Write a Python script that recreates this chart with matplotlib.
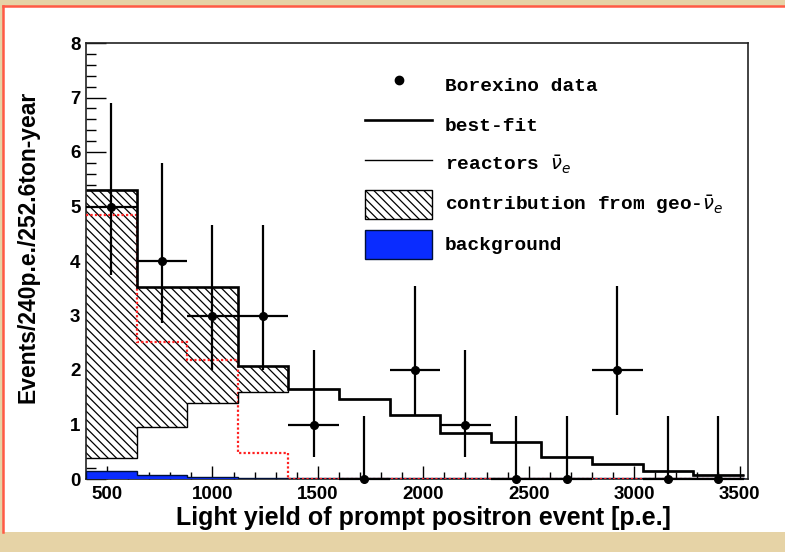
import numpy as np
import matplotlib
matplotlib.use("Agg")
import matplotlib.pyplot as plt
from matplotlib.lines import Line2D
from matplotlib.patches import Patch, Rectangle
from matplotlib.ticker import MultipleLocator

# Light-yield binning (240 p.e. per bin)
bin_edges = [400, 640, 880, 1120, 1360, 1600, 1840, 2080, 2320, 2560, 2800, 3040, 3280, 3520]
bin_centers = [520, 760, 1000, 1240, 1480, 1720, 1960, 2200, 2440, 2680, 2920, 3160, 3400]

# Observed events with asymmetric (Poisson) intervals
data_counts = [5, 4, 3, 3, 1, 0, 2, 1, 0, 0, 2, 0, 0]
data_lower = [3.74, 2.86, 2.00, 2.00, 0.40, 0.00, 1.17, 0.40, 0.00, 0.00, 1.17, 0.00, 0.00]
data_upper = [6.90, 5.80, 4.66, 4.66, 2.36, 1.16, 3.54, 2.36, 1.16, 1.16, 3.54, 1.16, 1.16]

# Fit components
best_fit = [5.30, 3.52, 3.52, 2.07, 1.65, 1.46, 1.18, 0.85, 0.68, 0.41, 0.28, 0.15, 0.07]
reactors = [0.38, 0.95, 1.39, 1.60, 1.65, 1.46, 1.18, 0.85, 0.68, 0.41, 0.28, 0.15, 0.07]
geo_only = [4.85, 2.52, 2.18, 0.48, 0.0, 0.0, 0.0, 0.0, 0.0, 0.0, 0.0, 0.0, 0.0]
background = [0.15, 0.08, 0.03, 0.02, 0.02, 0.01, 0.01, 0.01, 0.01, 0.01, 0.01, 0.01, 0.01]

legend_labels = ["Borexino data", "best-fit", r"reactors $\bar{\nu}_e$",
                 r"contribution from geo-$\bar{\nu}_e$", "background"]

edges = np.array(bin_edges, dtype=float)
centers = np.array(bin_centers, dtype=float)
counts = np.array(data_counts, dtype=float)
yerr = np.vstack([counts - np.array(data_lower), np.array(data_upper) - counts])
xerr = np.full_like(centers, 120.0)

plt.rcParams["hatch.linewidth"] = 0.9
plt.rcParams["mathtext.fontset"] = "dejavusans"

W, H = 785, 552
fig = plt.figure(figsize=(W / 100, H / 100), dpi=100)
fig.patch.set_facecolor("#e6d3a6")

# White panel with red border on left and top
panel_l, panel_b, panel_t = 3 / W, 1 - 532 / H, 1 - 6 / H
fig.add_artist(Rectangle((panel_l, panel_b), 1 - panel_l, panel_t - panel_b,
                         transform=fig.transFigure, facecolor="white",
                         edgecolor="none", zorder=0))
fig.add_artist(Line2D([panel_l, panel_l], [panel_b, panel_t], transform=fig.transFigure,
                      color="#ff5a45", lw=1.8, zorder=1))
fig.add_artist(Line2D([panel_l, 1], [panel_t, panel_t], transform=fig.transFigure,
                      color="#ff5a45", lw=1.8, zorder=1))

ax_l, ax_r, ax_t, ax_b = 86, 748, 43, 479
ax = fig.add_axes([ax_l / W, 1 - ax_b / H, (ax_r - ax_l) / W, (ax_b - ax_t) / H])
ax.set_facecolor("white")

# Geo contribution stacked on top of reactors (hatched)
ax.stairs(best_fit, edges, baseline=reactors, fill=True, facecolor="white",
          edgecolor="black", hatch="\\\\\\\\", linewidth=0, zorder=2)
# Background
ax.stairs(background, edges, fill=True, facecolor="#0a2cff", edgecolor="#00103a",
          linewidth=1.0, zorder=3)
# Geo-only spectrum
ax.stairs(geo_only, edges, baseline=None, edgecolor="#ff2020", linestyle=(0, (1, 1)),
          linewidth=1.6, zorder=3)
# Reactor and best-fit curves
ax.stairs(reactors, edges, baseline=None, edgecolor="black", linewidth=1.0, zorder=4)
ax.stairs(best_fit, edges, baseline=None, edgecolor="black", linewidth=1.9, zorder=4)

# Data points
ax.errorbar(centers, counts, yerr=yerr, xerr=xerr, fmt="o", color="black",
            markersize=5.5, elinewidth=1.6, capsize=0, zorder=5, clip_on=False)

ax.set_xlim(400, 3540)
ax.set_ylim(0, 8)

ax.xaxis.set_major_locator(MultipleLocator(500))
ax.xaxis.set_minor_locator(MultipleLocator(100))
ax.yaxis.set_major_locator(MultipleLocator(1))
ax.yaxis.set_minor_locator(MultipleLocator(0.2))
ax.tick_params(axis="x", which="major", direction="in", length=9.5, width=1.0, pad=5)
ax.tick_params(axis="x", which="minor", direction="in", length=5, width=1.0)
ax.tick_params(axis="y", which="major", direction="in", length=14.5, width=1.0, pad=4)
ax.tick_params(axis="y", which="minor", direction="in", length=7.2, width=1.0)
ax.set_xticks([500, 1000, 1500, 2000, 2500, 3000, 3500])
for lab in ax.get_xticklabels() + ax.get_yticklabels():
    lab.set_fontfamily("Liberation Sans")
    lab.set_fontweight("bold")
    lab.set_fontsize(13.5)
for sp in ax.spines.values():
    sp.set_linewidth(1.2)
    sp.set_color("#222222")

def axfrac_x(px):
    return (px - ax_l) / (ax_r - ax_l)

def axfrac_y(py):
    return (ax_b - py) / (ax_b - ax_t)

ax.set_xlabel("Light yield of prompt positron event [p.e.]", fontfamily="Liberation Sans",
              fontweight="bold", fontsize=18, va="center", ha="center")
ax.xaxis.set_label_coords(axfrac_x(423), axfrac_y(518))
ax.set_ylabel("Events/240p.e./252.6ton-year", fontfamily="Liberation Sans",
              fontweight="bold", fontsize=16.5, va="center", ha="center")
ax.yaxis.set_label_coords(axfrac_x(28), axfrac_y(247))

handles = [
    Line2D([], [], marker="o", linestyle="none", color="black", markersize=6),
    Line2D([], [], color="black", linewidth=1.9),
    Line2D([], [], color="black", linewidth=1.0),
    Patch(facecolor="white", edgecolor="black", hatch="\\\\\\\\", linewidth=1.0),
    Patch(facecolor="#0a2cff", edgecolor="#00103a", linewidth=1.0),
]
leg_fs = 14
leg_px = leg_fs * 100 / 72
ax.legend(handles, legend_labels, loc="upper left",
          bbox_to_anchor=(axfrac_x(365), axfrac_y(70)),
          frameon=False, borderpad=0, borderaxespad=0,
          handlelength=67 / leg_px, handleheight=1.92,
          handletextpad=13 / leg_px, labelspacing=0.56,
          prop={"family": "Liberation Mono", "weight": "bold", "size": leg_fs})

fig.savefig("out.png", dpi=100, facecolor=fig.get_facecolor())
